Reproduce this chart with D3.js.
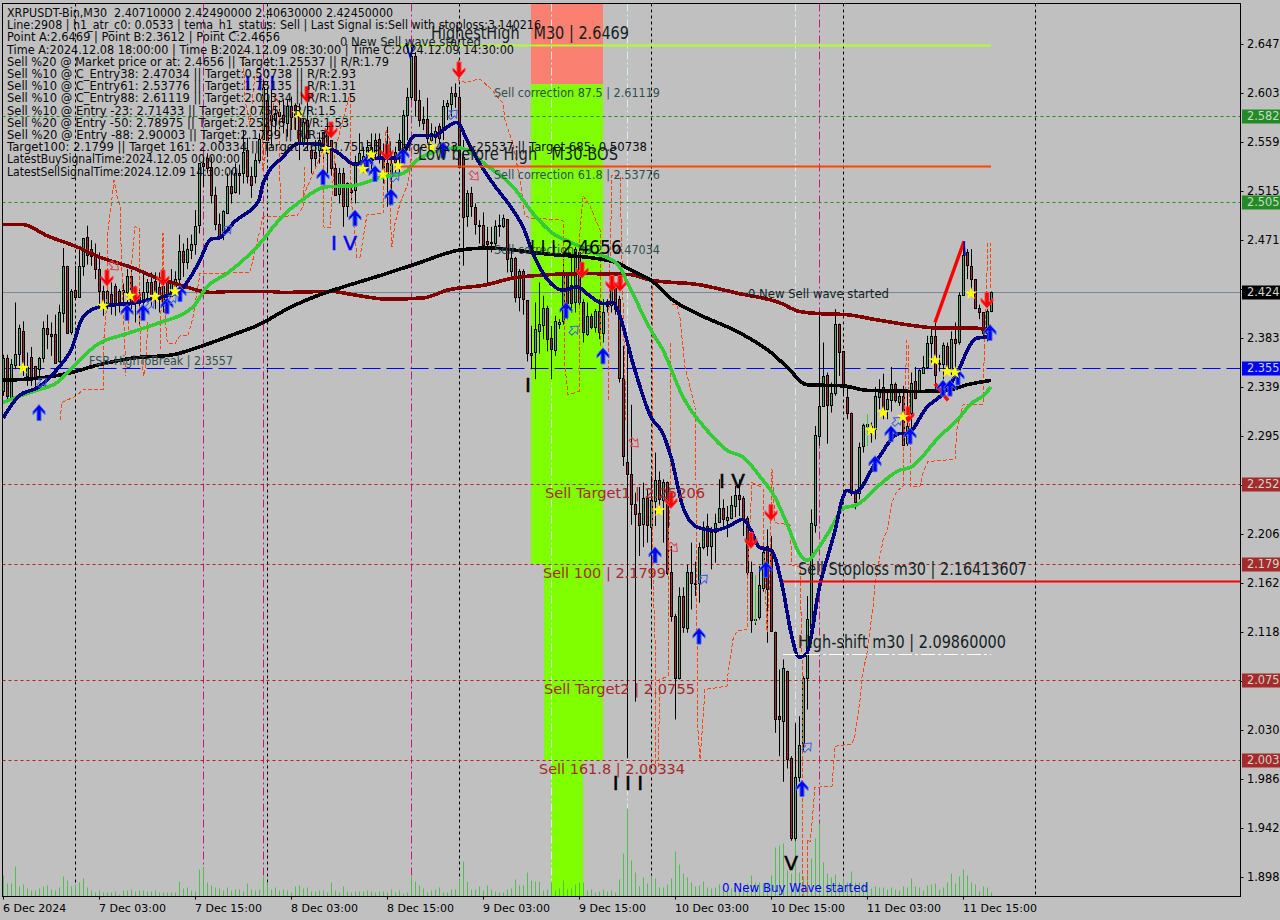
<!DOCTYPE html>
<html><head><meta charset="utf-8">
<script src="https://cdn.jsdelivr.net/npm/d3@7"></script>
<style>html,body{margin:0;padding:0;background:#c0c0c0;overflow:hidden;width:1280px;height:920px}svg{display:block}text{font-family:"DejaVu Sans",sans-serif}</style>
</head><body><div id="c"></div>
<script>
const open=[2.335,2.365,2.330,2.359,2.369,2.389,2.349,2.366,2.358,2.355,
2.365,2.392,2.387,2.387,2.362,2.406,2.448,2.388,2.426,2.420,
2.448,2.474,2.463,2.458,2.445,2.425,2.414,2.423,2.430,2.425,
2.424,2.425,2.439,2.421,2.420,2.418,2.424,2.433,2.434,2.429,
2.415,2.433,2.424,2.430,2.436,2.461,2.451,2.463,2.468,2.484,
2.540,2.545,2.537,2.512,2.486,2.478,2.496,2.520,2.514,2.531,
2.531,2.552,2.529,2.529,2.543,2.562,2.597,2.584,2.579,2.586,
2.584,2.577,2.592,2.593,2.584,2.558,2.579,2.552,2.550,2.552,
2.568,2.568,2.561,2.536,2.512,2.531,2.501,2.516,2.516,2.541,
2.538,2.540,2.555,2.549,2.562,2.547,2.540,2.528,2.550,2.552,
2.554,2.584,2.600,2.637,2.597,2.580,2.580,2.561,2.564,2.574,
2.573,2.591,2.593,2.603,2.600,2.546,2.492,2.513,2.501,2.485,
2.485,2.470,2.469,2.469,2.484,2.484,2.490,2.443,2.455,2.420,
2.443,2.417,2.370,2.370,2.390,2.395,2.410,2.383,2.372,2.395,
2.398,2.440,2.431,2.415,2.460,2.415,2.387,2.403,2.393,2.407,
2.387,2.413,2.413,2.430,2.418,2.347,2.272,2.261,2.234,2.226,
2.216,2.239,2.213,2.236,2.255,2.238,2.254,2.173,2.133,2.077,
2.151,2.123,2.173,2.163,2.163,2.195,2.214,2.196,2.209,2.217,
2.230,2.219,2.221,2.232,2.242,2.239,2.221,2.173,2.130,2.132,
2.159,2.196,2.193,2.119,2.043,2.038,2.084,2.005,1.933,1.988,
2.019,2.077,2.123,2.215,2.295,2.322,2.350,2.323,2.334,2.396,
2.371,2.330,2.316,2.244,2.244,2.286,2.306,2.298,2.301,2.330,
2.339,2.319,2.328,2.342,2.326,2.331,2.289,2.316,2.344,2.336,
2.352,2.357,2.379,2.385,2.361,2.360,2.376,2.355,2.382,2.380,
2.422,2.460,2.448,2.436,2.410,2.406,2.387,2.4071];
const high=[2.368,2.368,2.364,2.415,2.395,2.398,2.370,2.375,2.358,2.366,
2.398,2.404,2.397,2.404,2.413,2.464,2.448,2.427,2.448,2.465,
2.473,2.484,2.471,2.468,2.460,2.430,2.433,2.433,2.432,2.427,
2.432,2.445,2.447,2.430,2.427,2.442,2.436,2.442,2.442,2.442,
2.445,2.438,2.445,2.443,2.476,2.468,2.473,2.476,2.498,2.540,
2.546,2.549,2.546,2.519,2.495,2.498,2.531,2.534,2.540,2.539,
2.570,2.563,2.537,2.549,2.567,2.615,2.608,2.606,2.592,2.597,
2.597,2.597,2.600,2.594,2.594,2.581,2.604,2.555,2.561,2.568,
2.568,2.576,2.561,2.540,2.536,2.536,2.523,2.522,2.547,2.567,
2.555,2.561,2.567,2.567,2.567,2.558,2.573,2.549,2.555,2.567,
2.588,2.608,2.645,2.640,2.606,2.591,2.599,2.576,2.573,2.576,
2.597,2.597,2.609,2.612,2.609,2.561,2.516,2.519,2.504,2.489,
2.496,2.483,2.483,2.489,2.494,2.494,2.490,2.463,2.456,2.445,
2.445,2.417,2.394,2.415,2.433,2.421,2.412,2.394,2.403,2.400,
2.454,2.442,2.457,2.465,2.463,2.418,2.415,2.405,2.409,2.418,
2.418,2.418,2.433,2.432,2.421,2.376,2.373,2.323,2.244,2.249,
2.253,2.247,2.259,2.280,2.263,2.256,2.254,2.196,2.135,2.159,
2.159,2.179,2.199,2.182,2.199,2.218,2.225,2.213,2.225,2.256,
2.238,2.232,2.241,2.250,2.256,2.241,2.223,2.182,2.130,2.178,
2.197,2.211,2.205,2.119,2.085,2.094,2.084,2.007,2.037,2.043,
2.079,2.151,2.229,2.304,2.407,2.379,2.352,2.343,2.409,2.396,
2.371,2.340,2.316,2.247,2.289,2.306,2.314,2.307,2.339,2.346,
2.351,2.337,2.357,2.343,2.337,2.340,2.337,2.352,2.357,2.355,
2.367,2.385,2.393,2.397,2.368,2.379,2.379,2.389,2.397,2.424,
2.470,2.463,2.463,2.436,2.413,2.406,2.409,2.4249];
const low=[2.331,2.328,2.328,2.355,2.355,2.349,2.340,2.340,2.334,2.346,
2.361,2.373,2.367,2.361,2.361,2.397,2.388,2.386,2.420,2.420,
2.439,2.449,2.448,2.436,2.412,2.403,2.409,2.404,2.403,2.406,
2.412,2.412,2.409,2.397,2.394,2.400,2.415,2.412,2.409,2.406,
2.406,2.412,2.421,2.424,2.430,2.438,2.445,2.454,2.458,2.477,
2.519,2.531,2.504,2.480,2.474,2.471,2.495,2.504,2.513,2.512,
2.522,2.522,2.509,2.522,2.540,2.561,2.546,2.555,2.566,2.570,
2.567,2.564,2.570,2.570,2.543,2.555,2.552,2.531,2.536,2.540,
2.543,2.531,2.529,2.512,2.504,2.483,2.492,2.504,2.504,2.540,
2.532,2.532,2.531,2.543,2.540,2.522,2.501,2.504,2.531,2.532,
2.549,2.561,2.597,2.582,2.573,2.570,2.558,2.558,2.558,2.558,
2.561,2.579,2.582,2.590,2.537,2.448,2.483,2.492,2.476,2.468,
2.464,2.431,2.460,2.465,2.474,2.482,2.442,2.438,2.415,2.407,
2.404,2.362,2.355,2.346,2.369,2.382,2.371,2.346,2.367,2.391,
2.395,2.400,2.406,2.406,2.409,2.379,2.385,2.391,2.388,2.382,
2.379,2.406,2.406,2.404,2.343,2.268,2.005,2.215,2.056,2.187,
2.195,2.199,2.157,2.214,2.232,2.199,2.170,2.128,2.040,2.076,
2.118,2.118,2.139,2.151,2.145,2.193,2.187,2.175,2.181,2.217,
2.211,2.204,2.220,2.222,2.223,2.205,2.170,2.118,2.125,2.130,
2.155,2.109,2.119,2.028,2.007,1.984,1.996,1.931,1.931,1.984,
2.011,2.049,2.112,2.208,2.286,2.322,2.288,2.316,2.331,2.349,
2.331,2.310,2.241,2.229,2.238,2.280,2.286,2.289,2.292,2.319,
2.310,2.310,2.317,2.325,2.322,2.286,2.286,2.301,2.328,2.334,
2.352,2.355,2.361,2.337,2.353,2.346,2.352,2.350,2.355,2.377,
2.421,2.436,2.422,2.409,2.400,2.382,2.380,2.4063];
const close=[2.365,2.331,2.360,2.369,2.392,2.358,2.358,2.348,2.347,2.365,
2.392,2.387,2.385,2.361,2.406,2.448,2.388,2.425,2.420,2.448,
2.473,2.458,2.457,2.445,2.425,2.414,2.425,2.415,2.415,2.415,
2.426,2.439,2.415,2.415,2.415,2.424,2.433,2.421,2.424,2.418,
2.430,2.421,2.433,2.436,2.461,2.451,2.463,2.468,2.484,2.540,
2.537,2.536,2.512,2.486,2.474,2.497,2.520,2.514,2.531,2.529,
2.550,2.529,2.521,2.543,2.562,2.609,2.561,2.579,2.585,2.582,
2.578,2.592,2.582,2.584,2.558,2.577,2.563,2.545,2.545,2.561,
2.552,2.549,2.536,2.512,2.531,2.501,2.522,2.514,2.541,2.549,
2.547,2.555,2.541,2.561,2.547,2.528,2.530,2.540,2.541,2.561,
2.584,2.600,2.637,2.597,2.579,2.576,2.563,2.567,2.569,2.563,
2.592,2.594,2.603,2.600,2.537,2.492,2.513,2.501,2.486,2.484,
2.467,2.467,2.468,2.484,2.485,2.491,2.454,2.455,2.420,2.443,
2.418,2.369,2.368,2.391,2.396,2.410,2.382,2.373,2.398,2.397,
2.442,2.415,2.415,2.463,2.415,2.388,2.403,2.393,2.407,2.388,
2.406,2.412,2.430,2.409,2.347,2.277,2.261,2.234,2.225,2.215,
2.239,2.215,2.237,2.255,2.238,2.254,2.172,2.133,2.077,2.151,
2.123,2.173,2.163,2.162,2.195,2.213,2.196,2.209,2.217,2.230,
2.220,2.222,2.233,2.242,2.238,2.221,2.172,2.130,2.129,2.161,
2.191,2.157,2.119,2.041,2.040,2.086,2.005,1.933,1.988,2.017,
2.077,2.130,2.217,2.296,2.322,2.349,2.323,2.334,2.396,2.371,
2.341,2.316,2.244,2.236,2.285,2.305,2.304,2.304,2.331,2.335,
2.316,2.328,2.342,2.328,2.331,2.287,2.304,2.343,2.329,2.354,
2.357,2.379,2.385,2.350,2.360,2.377,2.355,2.382,2.378,2.422,
2.458,2.448,2.436,2.410,2.406,2.387,2.407,2.4245];
const volume=[2100,1300,1300,3000,1000,1200,800,600,600,800,
1000,1100,700,600,900,2000,1600,1000,1200,1400,
1800,900,600,400,600,400,400,400,500,200,
600,600,700,500,600,600,500,500,600,400,
400,400,400,400,1500,800,900,600,500,2700,
2900,1400,1100,900,800,600,900,600,700,700,
500,1300,700,600,700,2000,1400,700,900,600,
700,600,400,1000,1100,800,900,500,500,600,
600,400,1400,600,400,1000,500,400,500,500,
500,600,500,400,500,500,400,700,400,600,
300,400,2000,1500,1100,800,400,600,700,900,
400,400,700,700,1700,3500,1500,700,700,1000,
600,1100,700,500,400,400,700,800,1700,1100,
1100,2400,1600,1500,1500,600,700,1400,600,800,
1600,700,800,1200,1400,1400,600,700,400,500,
700,500,600,400,1700,4300,8800,3600,2400,1000,
1900,1300,2100,1800,900,900,1200,1800,4500,3200,
2300,1900,1400,1000,1100,1500,900,800,900,1200,
800,700,800,900,800,800,1300,2100,1400,1400,
1300,1300,2100,4900,5100,5300,2600,2300,5600,2400,
2000,2400,3800,5800,7300,3400,2300,1900,2200,1400,
1800,1400,2500,1400,1400,1300,1400,800,1000,900,
900,700,900,700,600,1000,900,1800,1000,900,
600,1100,1200,1300,700,900,1400,2300,1300,2000,
2700,2100,1400,1200,500,1000,900,400];

const fastMaIdx=[0,4,9,14,17,20,24,28,32,38,44,46,49,52,54,58,64,65,70,74,77,81,84,88,91,95,99,103,108,110,113.5,116,119,122.5,127.5,130,132.5,137,140,143.5,147,150,152.5,154,157.5,162,165,167,170,173.5,177.5,181,185,187,189,192,195,197,199,201,204,208,210,211,213,218.5,224,226,231,235,238.5,242,243.5,247];
const fastMa=[2.311,2.331,2.339,2.357,2.372,2.402,2.411,2.413,2.414,2.419,2.424,2.433,2.451,2.472,2.473,2.488,2.507,2.522,2.546,2.558,2.558,2.555,2.549,2.539,2.543,2.545,2.545,2.565,2.565,2.570,2.577,2.561,2.541,2.522,2.498,2.483,2.459,2.432,2.426,2.429,2.420,2.414,2.415,2.405,2.360,2.312,2.297,2.276,2.231,2.213,2.210,2.213,2.220,2.210,2.195,2.192,2.157,2.118,2.096,2.100,2.157,2.210,2.240,2.246,2.244,2.273,2.297,2.297,2.321,2.333,2.351,2.378,2.383,2.384];
const slowMaIdx=[0,3.5,8.5,13.5,17.5,23.5,31,38.5,47.5,51,56,63.5,70,74,81,87.5,95,100,103.5,107.5,114,121,127.5,132.5,137.5,142,147.5,153.5,157,162,165,170,176,181,185,190,192.5,196,199,201,204,207.5,210,213.5,218.5,224,227,234,239,242,245,247];
const slowMa=[2.325,2.330,2.336,2.343,2.357,2.377,2.387,2.396,2.411,2.429,2.441,2.465,2.493,2.505,2.519,2.520,2.528,2.531,2.543,2.550,2.554,2.538,2.519,2.495,2.477,2.469,2.460,2.450,2.426,2.390,2.372,2.330,2.300,2.282,2.276,2.255,2.243,2.216,2.190,2.183,2.195,2.215,2.230,2.233,2.249,2.264,2.267,2.294,2.311,2.324,2.331,2.339];
const trendMaIdx=[0,9,16,24,32.5,42.5,49,57.5,64,72,78.5,82.5,95,103.5,114,121,132.5,137.5,147.5,154,157,162,167.5,173.5,184,192,196,201,210,216,229,236,241,247];
const trendMa=[2.345,2.347,2.351,2.359,2.365,2.368,2.375,2.386,2.395,2.411,2.421,2.426,2.440,2.450,2.462,2.464,2.460,2.458,2.455,2.450,2.444,2.435,2.417,2.405,2.388,2.370,2.357,2.341,2.340,2.336,2.335,2.336,2.341,2.345];
const longMaIdx=[0,5,11,18.5,24,32.5,38.5,44,52,57.5,66,70,82,87.5,96,105,111,121,127.5,132.5,145,157,162,174,184,194,199,204,211,217.5,226,234,242.5,247];
const longMa=[2.485,2.485,2.475,2.465,2.456,2.446,2.437,2.431,2.424,2.425,2.425,2.424,2.425,2.422,2.418,2.419,2.426,2.431,2.437,2.439,2.441,2.440,2.435,2.431,2.423,2.415,2.407,2.405,2.404,2.400,2.395,2.392,2.392,2.390];

const bandA=[[14.25,2.309],[14.75,2.325],[18.25,2.331],[20.25,2.337],[25,2.337],[25,2.372],[26,2.417],[26.25,2.480],[27.5,2.516],[27.75,2.525],[28.5,2.511],[29.25,2.502],[29.25,2.493],[30,2.417],[30.75,2.349]];
const bandB=[[31.25,2.390],[32.25,2.453],[33,2.483],[34,2.482],[34,2.426],[34.5,2.363],[35.25,2.349],[35.75,2.363],[36.25,2.399]];
const bandC=[[39.25,2.372],[40,2.477],[40,2.426],[41,2.381],[41.25,2.378],[43,2.378],[44.25,2.385],[46.25,2.385],[47.5,2.402],[49.25,2.441],[61.75,2.442],[65,2.492],[73.5,2.493],[75,2.501],[75.5,2.537]];
const bandD=[[60,2.642],[60.5,2.597],[61.75,2.575],[63,2.620],[64.75,2.615],[65,2.534],[68,2.602],[69,2.593],[69,2.552],[69.5,2.498]];
const bandE=[[75,2.510],[80,2.552],[80,2.483],[81.75,2.482],[83,2.552],[86.75,2.603],[86.75,2.525],[87.25,2.501],[88.5,2.455],[89.25,2.456],[91,2.494],[95,2.495],[95.75,2.570],[96.75,2.561],[96.75,2.492],[97.25,2.465],[98,2.486],[99.25,2.504],[101.25,2.522],[102.25,2.552]];
const bandF=[[113.75,2.633],[113.75,2.615],[115.5,2.613],[119.25,2.616],[122.25,2.606],[125,2.594],[125.5,2.579],[127.5,2.558],[129.25,2.525],[130.5,2.493],[131.75,2.491],[140,2.489],[140.25,2.441],[140.5,2.357],[141.25,2.332],[144,2.335],[144,2.390],[144.25,2.480],[145,2.511],[146.75,2.502],[149.25,2.480],[149.25,2.375]];
const bandG=[[151.25,2.327],[151.25,2.369],[151.75,2.450],[152.25,2.529],[154.25,2.529],[155,2.417],[155.75,2.309]];
const bandH=[[162.25,2.435],[162.25,2.194],[163,2.112],[163.25,2.067],[163,1.994]];
const bandI=[[166.75,2.379],[166.75,2.249],[166.25,2.175],[166.25,2.079],[164.25,2.076],[163.75,1.995]];
const bandJ=[[167.25,2.413],[168.5,2.413],[169.25,2.401],[170.5,2.357],[173,2.321],[173.25,2.255],[173.5,2.120],[173.75,2.030],[174.25,2.004],[175,2.040],[175.5,2.067],[181,2.070],[181.25,2.081],[182.5,2.112],[183.5,2.120],[186,2.121],[186.25,2.181],[187.25,2.253],[190,2.248],[190.25,2.195],[191,2.119],[191.75,2.175],[192.25,2.265],[193,2.217],[196.75,2.215],[197.25,2.179],[199.25,2.177],[199.75,2.096],[199.75,1.962],[200,1.881]];
const bandK=[[201,1.885],[201,1.932],[201.75,1.930],[202.25,1.947],[203,1.979],[207.25,1.980],[208,2.016],[212.25,2.018],[213,2.026],[214.25,2.057],[214.75,2.078],[216,2.100],[217.5,2.141],[218,2.163],[220,2.201],[221,2.210],[222.25,2.235],[223.5,2.246],[225,2.249],[225.5,2.336],[226,2.381]];
const bandL=[[226.25,2.377],[227,2.249],[229.25,2.250],[230,2.262],[231.25,2.272],[238,2.274],[238.5,2.301],[240,2.323],[245,2.323],[245.25,2.361],[246.25,2.469],[246.75,2.469],[247,2.426]];
const bands=[bandA,bandB,bandC,bandD,bandE,bandF,bandG,bandH,bandI,bandJ,bandK,bandL];

const buySignals=[[9,2.316],[31,2.406],[35,2.406],[41,2.412],[44.25,2.423],[80,2.528],[88,2.491],[97,2.510],[91,2.540],[93,2.531],[100,2.547],[110,2.552],[140.75,2.408],[150,2.367],[163,2.188],[174,2.115],[190.75,2.175],[199.75,1.978],[218,2.270],[222,2.297],[226.75,2.295],[235,2.338],[236.75,2.338],[238.75,2.348],[246.75,2.388]];
const sellSignals=[[26,2.437],[33,2.422],[40,2.437],[76,2.602],[82,2.570],[96,2.550],[114,2.624],[144.75,2.444],[152.25,2.432],[154.25,2.432],[167,2.237],[187,2.201],[192,2.226],[226.25,2.314],[246,2.417]];
const yellowStars=[[5,2.356],[25,2.412],[31.75,2.421],[38,2.420],[43,2.425],[73.75,2.585],[80.75,2.553],[90,2.535],[92,2.548],[95,2.530],[98.75,2.538],[107,2.555],[164,2.228],[217,2.300],[220,2.316],[225,2.312],[233,2.363],[236,2.353],[238,2.352],[242,2.423]];
const orangeStars=[[140,2.398],[147,2.414],[153,2.440],[172,2.180],[190,2.191]];
const hollowSell=[[27.75,2.448],[117.75,2.529],[157.75,2.289],[167.5,2.195]];
const hollowBuy=[[9.75,2.343],[36.75,2.413],[42.25,2.418],[56,2.480],[112.5,2.584],[98,2.528],[142.75,2.390],[175,2.166],[201,2.015],[223.5,2.308]];
const waveLines=[[[233,2.397],[240.25,2.470]],[[233,2.342],[236.25,2.327]]];
const peakMarks=[[[100.75,2.648],[101.75,2.636],[102.75,2.647]],[[240.25,2.470],[240.5,2.457]]];

const priceTicks=[2.6474,2.6033,2.5593,2.5152,2.4713,2.3832,2.3393,2.2953,2.2064,2.1624,2.1184,2.0304,1.9864,1.9424,1.8984];
const minorTicks=[2.4273,2.2513,2.0744];
const timeTicks=["6 Dec 2024","7 Dec 03:00","7 Dec 15:00","8 Dec 03:00","8 Dec 15:00","9 Dec 03:00","9 Dec 15:00","10 Dec 03:00","10 Dec 15:00","11 Dec 03:00","11 Dec 15:00"];
const greenLevels=[2.5829,2.5052];
const greenLabels=["2.5829","2.5052"];
const brownLevels=[2.2515,2.1799,2.0755,2.00334];
const brownLabels=["2.2520","2.1799","2.0755","2.0033"];
const lastPrice=2.4245, breakLevel=2.3557;
const info=["XRPUSDT-Bin,M30  2.40710000 2.42490000 2.40630000 2.42450000",
"Line:2908 | h1_atr_c0: 0.0533 | tema_h1_status: Sell | Last Signal is:Sell with stoploss:3.140216",
"Point A:2.6469 | Point B:2.3612 | Point C:2.4656",
"Time A:2024.12.08 18:00:00 | Time B:2024.12.09 08:30:00 | Time C:2024.12.09 14:30:00",
"Sell %20 @ Market price or at: 2.4656 || Target:1.25537 || R/R:1.79",
"Sell %10 @ C_Entry38: 2.47034 || Target:0.50738 || R/R:2.93",
"Sell %10 @ C_Entry61: 2.53776 || Target:1.75135 || R/R:1.31",
"Sell %10 @ C_Entry88: 2.61119 || Target:2.00334 || R/R:1.15",
"Sell %10 @ Entry -23: 2.71433 || Target:2.0755 || R/R:1.5",
"Sell %20 @ Entry -50: 2.78975 || Target:2.25206 || R/R:1.53",
"Sell %20 @ Entry -88: 2.90003 || Target:2.1799 || R/R:3",
"Target100: 2.1799 || Target 161: 2.00334 || Target 261: 1.75135 || Target 423: 1.25537 || Target 685: 0.50738",
"LatestBuySignalTime:2024.12.05 00:00:00",
"LatestSellSignalTime:2024.12.09 14:30:00"];
const infoWidths=[386,534,273,507,382,349,349,349,329,342,320,640,233,231];

const W=1280,H=920,L=2.5,T=3.5,R=1240.5,B=896.5;
const x=d3.scaleLinear().domain([0,247]).range([3,991]);
const y=d3.scaleLinear().domain([2.6474,1.8984]).range([44,877]);
const v=d3.scaleLinear().domain([0,10000]).range([896.5,796.5]);
const svg=d3.select("#c").append("svg").attr("width",W).attr("height",H);
svg.append("rect").attr("width",W).attr("height",H).attr("fill","#c0c0c0");
svg.append("defs").append("clipPath").attr("id","plot").append("rect").attr("x",L).attr("y",T).attr("width",R-L).attr("height",B-T);
const g=svg.append("g").attr("clip-path","url(#plot)");
const px=i=>x(i)+.5;

// zone rectangles
const zones=[[132,150,2.75,2.61119,"#FA8072"],[132,150,2.61119,2.1799,"#7FFF00"],[135.25,150,2.1799,2.00334,"#7FFF00"],[137,145,2.00334,1.85,"#7FFF00"]];
g.selectAll(".z").data(zones).join("rect").attr("x",d=>x(d[0])).attr("width",d=>x(d[1])-x(d[0])).attr("y",d=>y(d[2])).attr("height",d=>y(d[3])-y(d[2])).attr("fill",d=>d[4]);

// vertical markers
const vl=(idx,col,dash)=>g.selectAll(null).data(idx).join("line").attr("x1",d=>Math.round(x(d))+.5).attr("x2",d=>Math.round(x(d))+.5).attr("y1",T).attr("y2",B).attr("stroke",col).attr("stroke-dasharray",dash).attr("stroke-width",1);
vl([18,66,114,162,210,258],"#000","3,3");
vl([50,65,102,204],"#C71585","8,3,2,3");
vl([137,156,198],"#dcecec","8,3,2,3");

// level lines
const hl=(p,x1,x2,col,dash,sw)=>g.append("line").attr("x1",x1).attr("x2",x2).attr("y1",Math.round(y(p))+.5).attr("y2",Math.round(y(p))+.5).attr("stroke",col).attr("stroke-width",sw||1).attr("stroke-dasharray",dash||null);
greenLevels.forEach(p=>hl(p,L,R,"#228B22","3,3"));
brownLevels.forEach(p=>hl(p,L,R,"#B22222","3,3"));
hl(lastPrice,L,R,"#778899");
hl(breakLevel,L,R,"#0000FF","18,6");

// volume
g.selectAll(".vol").data(volume).join("line").attr("x1",(d,i)=>px(i)).attr("x2",(d,i)=>px(i)).attr("y1",v(0)).attr("y2",d=>v(d)).attr("stroke","#4FBF4F").attr("stroke-width",1);

// candles
const idx=d3.range(close.length);
g.selectAll(".w").data(idx).join("line").attr("x1",px).attr("x2",px).attr("y1",i=>y(high[i])).attr("y2",i=>y(low[i])).attr("stroke","#000").attr("stroke-width",1);
g.selectAll(".b").data(idx).join("rect").attr("x",i=>x(i)-.5).attr("width",2).attr("y",i=>Math.round(y(Math.max(open[i],close[i])))+.5).attr("height",i=>Math.max(1,Math.round(Math.abs(y(open[i])-y(close[i])))))
 .attr("fill",i=>close[i]>=open[i]?"#3CB371":"#B22234").attr("stroke","#000").attr("stroke-width",1);

// lime spikes
[[188,2.170,2.127],[216,2.314,2.286]].forEach(d=>g.append("line").attr("x1",px(d[0])).attr("x2",px(d[0])).attr("y1",y(d[1])).attr("y2",y(d[2])).attr("stroke","#32CD32"));

// orange bands
const ln=d3.line().x(d=>x(d[0])).y(d=>y(d[1]));
g.selectAll(".bnd").data(bands).join("path").attr("d",ln).attr("fill","none").attr("stroke","#FF4500").attr("stroke-width",1).attr("stroke-dasharray","4,2").attr("shape-rendering","crispEdges");

// moving averages
const ma=(ix,vals,col,sw)=>{const c=d3.line().curve(d3.curveMonotoneX).x(d=>x(d[0])).y(d=>y(d[1]));
 g.append("path").attr("d",c(ix.map((k,j)=>[k,vals[j]]))).attr("fill","none").attr("stroke",col).attr("stroke-width",sw).attr("stroke-linejoin","round").attr("shape-rendering","crispEdges");};
ma(longMaIdx,longMa,"#800000",3.6);
ma(trendMaIdx,trendMa,"#000000",3.6);
ma(slowMaIdx,slowMa,"#32CD32",3.6);
ma(fastMaIdx,fastMa,"#000080",3.6);

// level segments
hl(2.6469,x(98),x(247),"#ADFF2F",null,2);
hl(2.53776,x(98.5),x(247),"#FF4500",null,2);
hl(2.16414,x(195),R,"#FF0000",null,2);
hl(2.0986,x(195),x(247),"#FFFFFF","14,3,3,3",1);

// wave lines
g.selectAll(".wv").data(waveLines).join("path").attr("d",ln).attr("fill","none").attr("stroke","#FF0000").attr("stroke-width",3.4);
g.selectAll(".pk").data(peakMarks).join("path").attr("d",ln).attr("fill","none").attr("stroke","#0000CD").attr("stroke-width",1.6);

// arrows
const up="M0,-8L6,-1L6,2L2,-2L2,8L-2,8L-2,-2L-6,2L-6,-1Z";
const down="M0,8L6,1L6,-2L2,2L2,-8L-2,-8L-2,2L-6,-2L-6,1Z";
const ptr=(d)=>`translate(${x(d[0])},${y(d[1])})`;
g.selectAll(".bu").data(buySignals).join("path").attr("d",up).attr("transform",ptr).attr("fill","#0000FF").attr("stroke","#4169E1").attr("stroke-width",1);
g.selectAll(".se").data(sellSignals).join("path").attr("d",down).attr("transform",ptr).attr("fill","#FF0000").attr("stroke","#FF4040").attr("stroke-width",1);
const hollow="M-2,-5L2,-5L2,0L5,0L0,6L-5,0L-2,0Z";
g.selectAll(".hs").data(hollowSell).join("path").attr("d",hollow).attr("transform",d=>ptr(d)+" rotate(-45)").attr("fill","none").attr("stroke","#E04050");
g.selectAll(".hb").data(hollowBuy).join("path").attr("d",hollow).attr("transform",d=>ptr(d)+" rotate(-135)").attr("fill","none").attr("stroke","#4060E0");
const star=d3.symbol().type(d3.symbolStar).size(52);
g.selectAll(".ys").data(yellowStars).join("path").attr("d",star).attr("transform",ptr).attr("fill","#FFFF00");
g.selectAll(".os").data(orangeStars).join("path").attr("d",d3.symbol().type(d3.symbolTimes).size(32)).attr("transform",ptr).attr("fill","#FFA500");

// annotations
const label=(s,i,py,size,col,w)=>{const t=g.append("text").attr("x",x(i)).attr("y",py).attr("font-size",size).attr("fill",col).text(s);
 if(w)t.attr("textLength",w).attr("lengthAdjust","spacingAndGlyphs");return t.style("white-space","pre");};
const dark="#141f1f",slate="#2F4F4F",brown="#A52A2A";
label("HighestHigh   M30 | 2.6469",107,y(2.6469)-6,17,dark,198);
label("0 New Sell wave started",84.25,y(2.6469)+1,12.5,dark,141);
label("Low before High   M30-BOS",103.75,y(2.53776)-6,17,dark,200);
label("Sell correction 87.5 | 2.61119",122.75,y(2.61119)+13,12.5,slate,166);
label("Sell correction 61.8 | 2.53776",122.75,y(2.53776)+13,12.5,slate,166);
label("Sell correction 38.2 | 2.47034",122.75,y(2.47034)+13,12.5,slate,166);
label("I I I 2.4656",131.75,y(2.4656)+8,19,"#000",92);
label("0 New Sell wave started",186.25,y(lastPrice)+6,12.5,dark,141);
label("FSB-HighToBreak | 2.3557",21.5,y(breakLevel)-3,12.5,slate,144);
label("Sell Target1 | 2.25206",135.5,y(2.25206)+14,14.5,brown,160);
label("Sell 100 | 2.1799",135,y(2.1799)+14,14.5,brown,123);
label("Sell Target2 | 2.0755",135.25,y(2.0755)+14,14.5,brown,151);
label("Sell 161.8 | 2.00334",134,y(2.00334)+14,14.5,brown,146);
label("Sell Stoploss m30 | 2.16413607",198.75,y(2.16414)-6,17,dark,229);
label("High-shift m30 | 2.09860000",198.75,y(2.0986)-6,17,dark,208);
label("0 New Buy Wave started",179.75,B-4.5,13,"#0000FF",146);
const wave=(s,i,p,col)=>g.append("text").attr("x",x(i)).attr("y",y(p)).attr("text-anchor","middle").attr("font-size",20).attr("fill",col).attr("stroke",col).attr("stroke-width",.5).text(s);
wave("I V",85.25,2.462,"#0000FF");
wave("I I I",64.25,2.606,"#0000FF");
wave("I",131.25,2.3345,"#000");
wave("I I I",156.25,1.9768,"#000");
wave("I V",182.25,2.2483,"#000");
wave("V",197,1.905,"#000");

// info text
svg.append("g").selectAll("text").data(info).join("text").attr("x",7).attr("y",(d,i)=>17+i*12.2).attr("font-size",12).attr("fill","#0a0a0a")
 .attr("textLength",(d,i)=>infoWidths[i]).attr("lengthAdjust","spacingAndGlyphs").style("white-space","pre").text(d=>d);

// frame
svg.append("rect").attr("x",L).attr("y",T).attr("width",R-L).attr("height",B-T).attr("fill","none").attr("stroke","#000");

// price axis
const ax=svg.append("g");
[...priceTicks,...minorTicks].forEach(p=>ax.append("line").attr("x1",R).attr("x2",R+3).attr("y1",Math.round(y(p))+.5).attr("y2",Math.round(y(p))+.5).attr("stroke","#000"));
ax.selectAll("text").data(priceTicks).join("text").attr("x",1247).attr("y",d=>y(d)+4).attr("font-size",11.4).attr("fill","#000").text(d=>d.toFixed(4));
const tag=(p,s,bg)=>{const yy=y(p);svg.append("rect").attr("x",1242).attr("y",Math.round(yy)-6.5).attr("width",38).attr("height",14).attr("fill",bg);
 svg.append("text").attr("x",1247).attr("y",yy+4).attr("font-size",11.4).attr("fill","#c8d8d0").text(s);};
greenLevels.forEach((p,i)=>tag(p,greenLabels[i],"#228B22"));
brownLevels.forEach((p,i)=>tag(p,brownLabels[i],"#A52A2A"));
tag(lastPrice,"2.4245","#000000");
tag(breakLevel,"2.3557","#0000FF");

// time axis
const tk=svg.append("g");
timeTicks.forEach((s,k)=>{const xx=Math.round(x(k*24))+.5;
 tk.append("line").attr("x1",xx).attr("x2",xx).attr("y1",B).attr("y2",B+3).attr("stroke","#000");
 tk.append("text").attr("x",xx-.5).attr("y",912).attr("font-size",11).attr("fill","#000").text(s);});
</script></body></html>
